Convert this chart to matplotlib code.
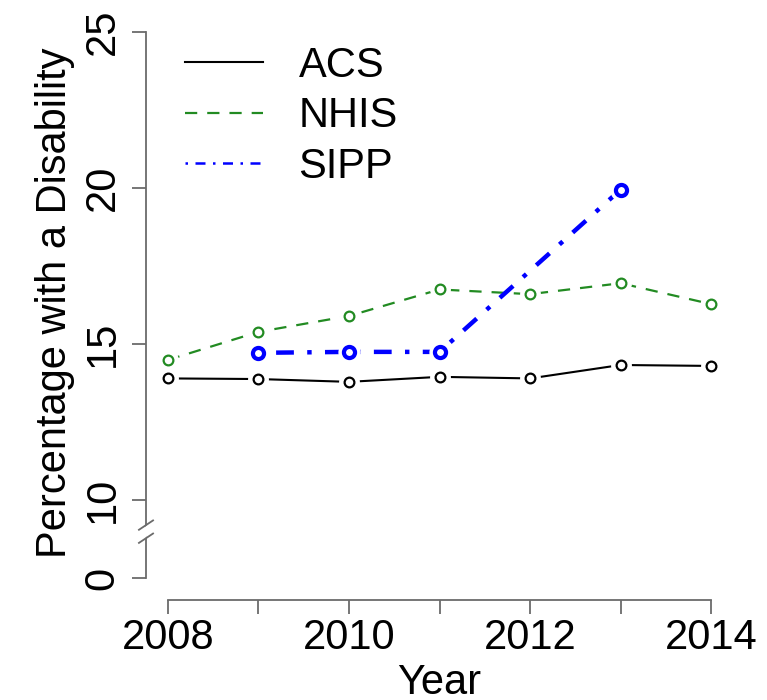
import numpy as np
import matplotlib
matplotlib.use("Agg")
import matplotlib.pyplot as plt
from matplotlib.lines import Line2D
from matplotlib.transforms import blended_transform_factory

plt.rcParams["font.family"] = ["Liberation Sans", "DejaVu Sans"]

# Survey estimates of the share of people reporting a disability
years = [2008, 2009, 2010, 2011, 2012, 2013, 2014]
acs = [13.90, 13.88, 13.79, 13.95, 13.90, 14.33, 14.30]
nhis = [14.49, 15.39, 15.90, 16.75, 16.60, 16.95, 16.28]
sipp_years = [2009, 2010, 2011, 2013]
sipp = [14.72, 14.75, 14.75, 19.95]

y_ticks = [0, 10, 15, 20, 25]
x_ticks = [2008, 2009, 2010, 2011, 2012, 2013, 2014]
x_labels = ["2008", "", "2010", "", "2012", "", "2014"]

# the y axis is broken between 0 and 10: 0 is drawn at 7.5
ZERO_POS = 7.5


def ypos(v):
    return np.where(np.asarray(v) == 0, ZERO_POS, v)


axis_grey = "#6b6b6b"
fs = 30

fig = plt.figure(figsize=(7.67, 7.0), dpi=100)
ax = fig.add_axes([146 / 767, 100 / 700, 587 / 767, 580.5 / 700])
ax.set_xlim(2007.76, 2014.24)
ax.set_ylim(6.8, 25.4)


def series(x, y, color, ls, lw, ms, mew, label, leg_lw=None):
    # line with gaps around the open circles, like type = "b"
    ax.plot(x, y, color=color, ls=ls, lw=lw, zorder=2)
    ax.plot(x, y, ls="none", marker="o", ms=ms + 7, mfc="white", mec="white", zorder=3)
    ax.plot(x, y, ls="none", marker="o", ms=ms, mfc="none", mec=color, mew=mew, zorder=4)
    return Line2D([], [], color=color, ls=ls, lw=leg_lw or lw, label=label)


handles = [
    series(years, acs, "black", "-", 1.5, 7, 1.6, "ACS"),
    series(years, nhis, "#228B22", (0, (5.5, 4.5)), 1.6, 7, 1.6, "NHIS"),
    series(sipp_years, sipp, "#0000FF", (0, (1, 3, 4, 3)), 3.2, 8, 3.0, "SIPP", 1.8),
]

leg = ax.legend(handles=handles, loc="upper left", bbox_to_anchor=(0.017, 1.005),
                frameon=False, fontsize=fs, handlelength=1.87, handletextpad=0.85,
                labelspacing=0.25, borderaxespad=0.3)

for s in ["top", "right"]:
    ax.spines[s].set_visible(False)
ax.spines["left"].set_bounds(ZERO_POS, 25)
ax.spines["bottom"].set_bounds(2008, 2014)
for s in ["left", "bottom"]:
    ax.spines[s].set_color(axis_grey)
    ax.spines[s].set_linewidth(1.3)

ax.set_yticks(ypos(y_ticks))
ax.set_yticklabels([str(t) for t in y_ticks], rotation=90, va="center")
ax.set_xticks(x_ticks)
ax.set_xticklabels(x_labels)
ax.tick_params(axis="both", length=10, width=1.3, color=axis_grey, labelsize=fs)
ax.tick_params(axis="x", pad=3)
ax.tick_params(axis="y", pad=7)

# break marks on the y axis
tr = blended_transform_factory(ax.transAxes, ax.transData)
dx, dy = 0.012, 0.15
ax.fill([-dx, dx, dx, -dx], [8.78 - dy, 9.2 - dy, 9.2 + dy, 8.78 + dy],
        color="white", transform=tr, clip_on=False, zorder=5)
for yc in [9.2, 8.78]:
    ax.plot([-dx, dx], [yc - dy, yc + dy], color=axis_grey, lw=1.3,
            transform=tr, clip_on=False, zorder=6)

ax.set_xlabel("Year", fontsize=fs, va="center")
ax.xaxis.set_label_coords(0.5, -0.143)
ax.set_ylabel("Percentage with a Disability", fontsize=fs, va="center")
ax.yaxis.set_label_coords(-0.155, 0.512)

fig.savefig("out.png", dpi=100)
